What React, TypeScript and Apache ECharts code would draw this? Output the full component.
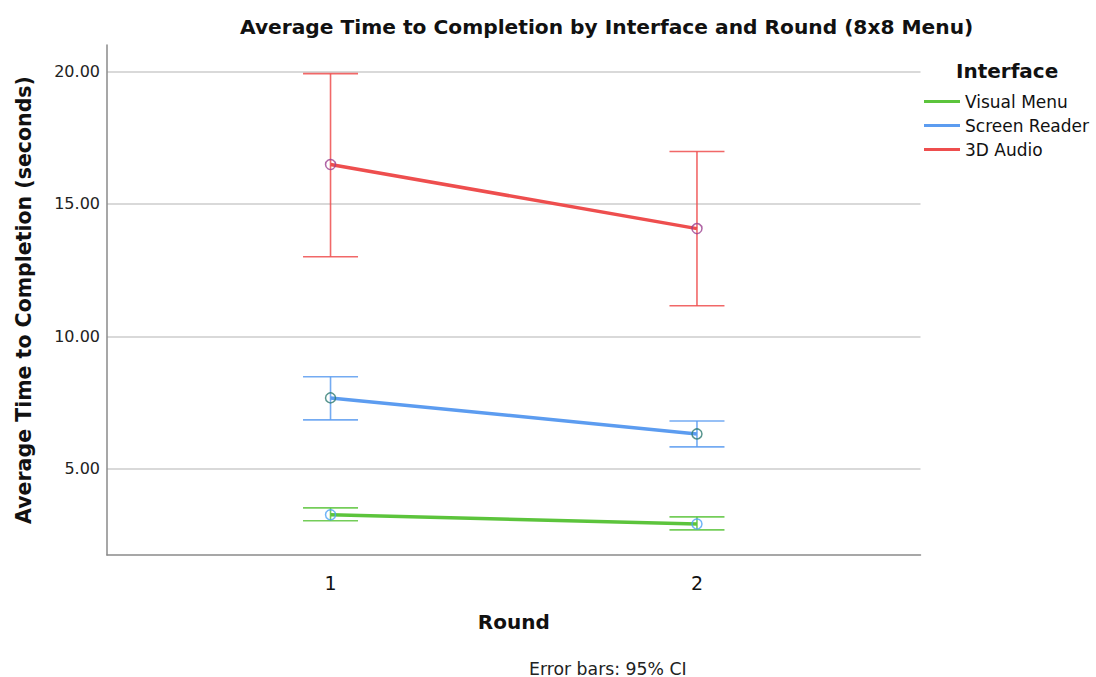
import React, { useEffect, useRef } from "react";
import * as echarts from "echarts";

const rounds = [1, 2];
const interfaces = ["Visual Menu", "Screen Reader", "3D Audio"];
const means = [
  [3.27, 2.92],
  [7.68, 6.32],
  [16.49, 14.07],
];
const ciLow = [
  [3.04, 2.7],
  [6.85, 5.83],
  [13.01, 11.16],
];
const ciHigh = [
  [3.53, 3.19],
  [8.48, 6.81],
  [19.92, 16.98],
];
const yTicks = [5, 10, 15, 20];
const lineColors = ["#5cc43c", "#5c9cf0", "#ee4e4e"];
const markerColors = ["#4ea3f5", "#2e7a72", "#9b3f8f"];

const REG = "DejaVu Sans";
const BOLD = "DejaVu Sans";

export default function App() {
  const ref = useRef<HTMLDivElement>(null);
  useEffect(() => {
    const chart = echarts.init(ref.current!, null, { renderer: "svg" });
    const series: any[] = [];
    // gridlines
    series.push({
      type: "line",
      name: "grid",
      data: [],
      silent: true,
      markLine: {
        silent: true,
        z: 0,
        symbol: ["none", "none"],
        label: { show: false },
        lineStyle: { color: "#cdcdcd", width: 1.5, type: "solid" },
        emphasis: { disabled: true },
        data: yTicks.map((v) => ({ yAxis: v })),
      },
    });
    interfaces.forEach((name, i) => {
      const col = lineColors[i];
      series.push({
        type: "custom",
        name: name + " CI",
        z: 2,
        silent: true,
        data: rounds.map((r, j) => [r, ciLow[i][j], ciHigh[i][j]]),
        encode: { x: 0, y: [1, 2] },
        renderItem: (params: any, api: any) => {
          const x = api.value(0);
          const lo = api.coord([x, api.value(1)]);
          const hi = api.coord([x, api.value(2)]);
          const hw = 27.5;
          const st = { stroke: col, lineWidth: 1.6, opacity: 0.85 };
          return {
            type: "group",
            children: [
              { type: "line", shape: { x1: lo[0], y1: lo[1], x2: hi[0], y2: hi[1] }, style: st },
              { type: "line", shape: { x1: lo[0] - hw, y1: lo[1], x2: lo[0] + hw, y2: lo[1] }, style: st },
              { type: "line", shape: { x1: hi[0] - hw, y1: hi[1], x2: hi[0] + hw, y2: hi[1] }, style: st },
            ],
          };
        },
      });
      series.push({
        type: "line",
        name,
        z: 3,
        color: col,
        showSymbol: false,
        symbol: "none",
        lineStyle: { color: col, width: 3.5 },
        itemStyle: { color: col },
        data: rounds.map((r, j) => [r, means[i][j]]),
      });
      series.push({
        type: "scatter",
        name: name + " mean",
        z: 4,
        symbol: "circle",
        symbolSize: 10,
        itemStyle: { color: "rgba(255,255,255,0)", borderColor: markerColors[i], borderWidth: 1.5 },
        data: rounds.map((r, j) => [r, means[i][j]]),
      });
    });

    chart.setOption({
      animation: false,
      title: [
        {
          text: "Average Time to Completion by Interface and Round (8x8 Menu)",
          left: 235,
          top: 12,
          textStyle: { fontFamily: BOLD, fontWeight: "bold", fontSize: 20.2, color: "#111" },
        },
        {
          text: "Interface",
          left: 951,
          top: 56,
          textStyle: { fontFamily: BOLD, fontWeight: "bold", fontSize: 20, color: "#111" },
        },
        {
          text: "Error bars: 95% CI",
          left: 524,
          top: 655,
          textStyle: { fontFamily: REG, fontWeight: "normal", fontSize: 17.3, color: "#222" },
        },
      ],
      legend: {
        data: interfaces,
        orient: "vertical",
        left: 924,
        top: 93,
        itemGap: 7,
        itemWidth: 36,
        itemHeight: 3,
        icon: "rect",
        padding: 0,
        textStyle: { fontFamily: REG, fontSize: 17, color: "#111" },
      },
      grid: { left: 107, right: 175.5, top: 45, bottom: 122 },
      xAxis: {
        type: "value",
        min: 0.39,
        max: 2.61,
        name: "Round",
        nameLocation: "middle",
        nameGap: 57,
        nameTextStyle: { fontFamily: BOLD, fontWeight: "bold", fontSize: 20, color: "#111" },
        axisLine: { show: true, lineStyle: { color: "#8a8a8a", width: 1.5 } },
        axisTick: { show: false },
        splitLine: { show: false },
        axisLabel: {
          customValues: rounds,
          fontFamily: REG,
          fontSize: 19,
          color: "#111",
          margin: 18,
        },
      },
      yAxis: {
        type: "value",
        min: 1.75,
        max: 21,
        name: "Average Time to Completion (seconds)",
        nameLocation: "middle",
        nameGap: 73,
        nameTextStyle: { fontFamily: BOLD, fontWeight: "bold", fontSize: 20.5, color: "#111" },
        axisLine: { show: true, lineStyle: { color: "#8a8a8a", width: 1.5 } },
        axisTick: { show: false },
        splitLine: { show: false },
        axisLabel: {
          customValues: yTicks,
          formatter: (v: number) => v.toFixed(2),
          fontFamily: REG,
          fontSize: 16,
          color: "#222",
          margin: 7,
        },
      },
      series,
    });
    return () => chart.dispose();
  }, []);
  return (
    <div
      ref={ref}
      style={{ position: "fixed", left: 0, top: 0, width: 1096, height: 677, background: "#fff" }}
    />
  );
}
